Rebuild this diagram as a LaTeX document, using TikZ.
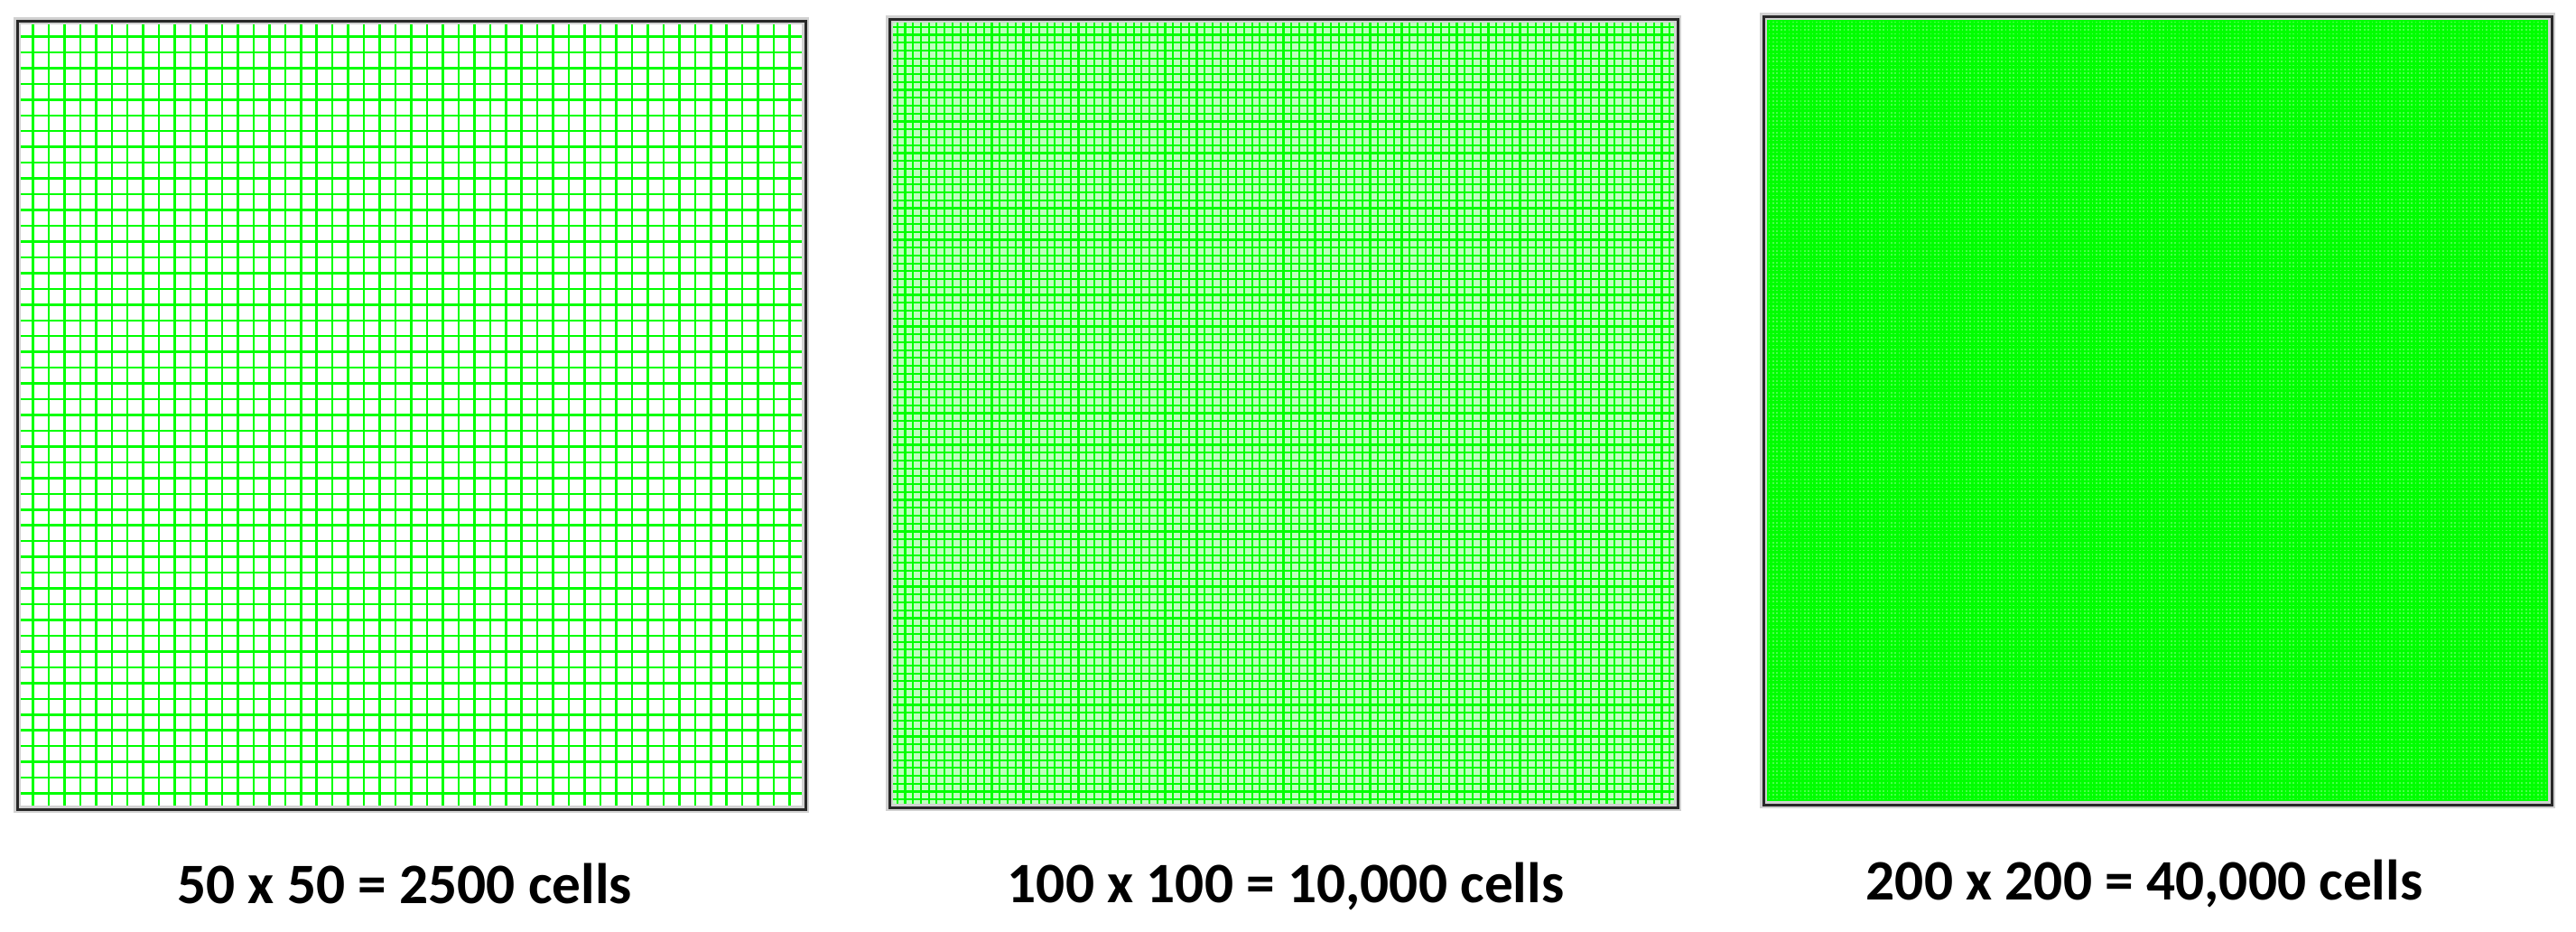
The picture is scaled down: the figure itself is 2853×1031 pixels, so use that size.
\documentclass[tikz,border=0pt]{standalone}
\usepackage{fontspec}
\setmainfont{Carlito}
\definecolor{grn}{RGB}{0,255,0}
\definecolor{frame}{RGB}{40,40,40}
\tikzset{
  gridline/.style={draw=grn, line cap=butt},
  framebox/.style={draw=frame, line width=0.9pt},
  halo/.style={draw=black!18, line width=2.2pt},
  caption/.style={font=\fontsize{19}{21}\selectfont\bfseries, anchor=base, inner sep=0pt}
}
\newcommand{\meshgrid}[7]{% x0 y0 size n linewidth fill name
  \fill[#6] (#1,#2) rectangle ({#1+#3},{#2+#3});
  \pgfmathsetmacro{\cellsz}{#3/#4}
  \foreach \k in {1,...,\numexpr#4-1\relax}{
    \pgfmathsetmacro{\pp}{\k*\cellsz}
    \draw[gridline, line width=#5] ({#1+\pp},#2) -- ({#1+\pp},{#2+#3});
    \draw[gridline, line width=#5] (#1,{#2+\pp}) -- ({#1+#3},{#2+\pp});
  }
  \draw[halo] (#1,#2) rectangle ({#1+#3},{#2+#3});
  \draw[framebox] (#1,#2) rectangle ({#1+#3},{#2+#3});
  \coordinate (#7) at ({#1+#3/2},{#2+#3});
}
\begin{document}
\begin{tikzpicture}[x=0.3pt,y=-0.3pt]
\useasboundingbox[fill=white] (0,0) rectangle (2853,1031);
\meshgrid{19}{23}{873}{50}{0.75pt}{white}{g1}
\meshgrid{985}{21}{873}{100}{0.65pt}{grn!25}{g2}
\meshgrid{1953}{18}{873}{200}{0.8pt}{grn!70}{g3}
\node[caption] (l1) at (448,1000) {50 x 50 = 2500 cells};
\node[caption] (l2) at (1424,999) {100 x 100 = 10,000 cells};
\node[caption] (l3) at (2375,996) {200 x 200 = 40,000 cells};
\end{tikzpicture}
\end{document}
